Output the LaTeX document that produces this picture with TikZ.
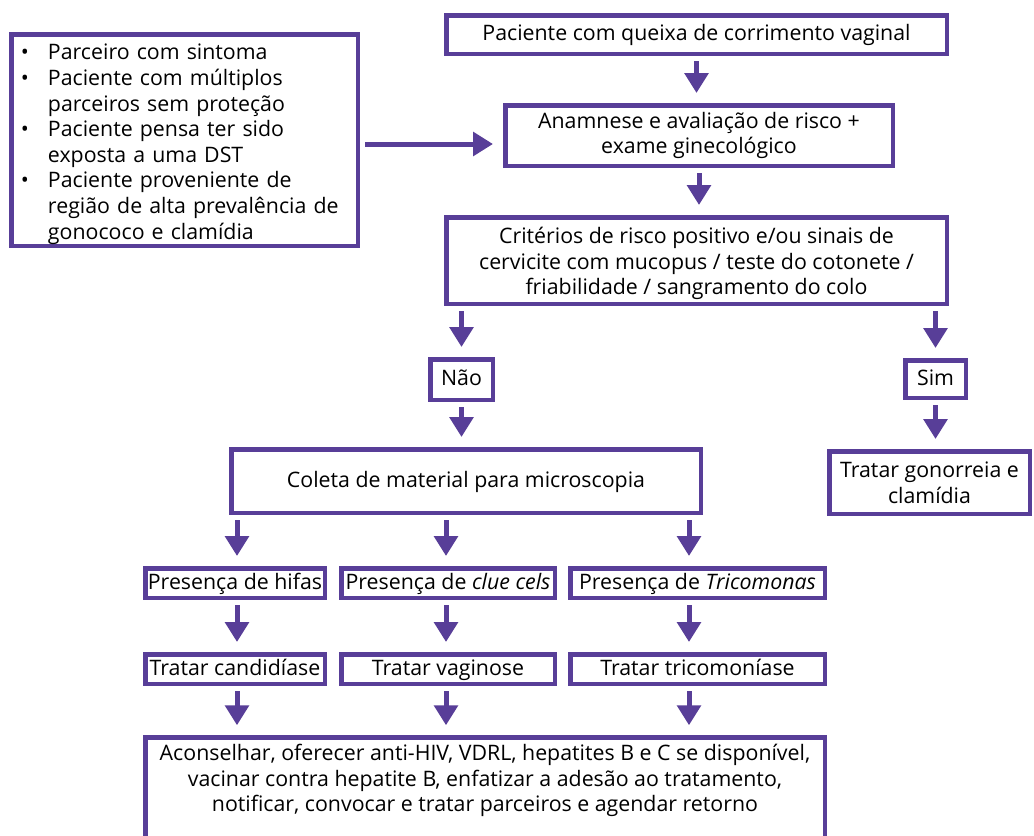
\documentclass[tikz,border=0pt]{standalone}
\usepackage{fontspec}
\setmainfont{Open Sans}
\usetikzlibrary{arrows.meta}
\definecolor{pur}{RGB}{88,62,152}
\tikzset{
  box/.style={draw=pur, line width=3.375pt, inner sep=0pt, align=center,
    font=\fontsize{16pt}{19.2pt}\selectfont, text=black},
  sl/.style={text height=12.4pt, text depth=3.2pt},
  arr/.style={draw=pur, line width=3.75pt,
    -{Triangle[width=17.5pt,length=15pt]},
    shorten <=3.75pt, shorten >=7.5pt},
}
\newcommand\bx[7][]{\node[box, #1, minimum width={(#5-#3-4.5)*0.75pt},
  minimum height={(#6-#4-4.5)*0.75pt}] (#2) at ({(#3+#5)/2},{(#4+#6)/2}) {#7};}
\newcommand\bul{\makebox[20.25pt][l]{•}}
\newcommand\ind{\hspace*{20.25pt}}
\begin{document}
\begin{tikzpicture}[x=0.75pt,y=-0.75pt]
\useasboundingbox (0,0) rectangle (1034,835);
\clip (0,0) rectangle (1034,835);
\fill[white] (0,0) rectangle (1034,835);
% boxes
\bx[sl]{b1}{444}{13}{949}{56}{Paciente com queixa de corrimento vaginal}
\bx{b2}{503}{103}{895}{168}{Anamnese e avaliação de risco +\\exame ginecológico}
\bx{b3}{444}{215}{949}{306}{\rule{0pt}{16.7pt}Critérios de risco positivo e/ou sinais de\\cervicite com mucopus / teste do cotonete /\\friabilidade / sangramento do colo}
\node[box, align=left, minimum width={(351-4.5)*0.75pt}, minimum height={(216-4.5)*0.75pt},
  text width={327*0.75pt}] (risk) at (184.5,140) {%
\mbox{\rule{0pt}{18.2pt}\bul Parceiro com sintoma}\\
\mbox{\bul Paciente com múltiplos}\\
\mbox{\ind parceiros sem proteção}\\
\mbox{\bul Paciente pensa ter sido}\\
\mbox{\ind exposta a uma DST}\\
\mbox{\bul Paciente proveniente de}\\
\mbox{\ind região de alta prevalência de}\\
\mbox{\ind gonococo e clamídia}};
\bx[sl]{nao}{428}{357}{495}{402}{Não}
\bx[sl]{sim}{903}{358}{968}{400}{Sim}
\bx{tg}{827}{449}{1032}{516}{Tratar gonorreia e\\clamídia}
\bx[sl]{col}{229}{447}{703}{515}{Coleta de material para microscopia}
\bx[sl]{a1}{143}{566}{327}{600}{Presença de hifas}
\bx[sl]{c1}{339}{566}{557}{600}{Presença de \textit{clue cels}}
\bx[sl]{t1}{568}{566}{827}{600}{Presença de \textit{Tricomonas}}
\bx[sl]{a2}{143}{652}{327}{686}{Tratar candidíase}
\bx[sl]{c2}{339}{652}{557}{686}{Tratar vaginose}
\bx[sl]{t2}{568}{652}{827}{686}{Tratar tricomoníase}
\node[box, minimum width={(827-143-4.5)*0.75pt}, minimum height={(860-733-4.5)*0.75pt},
  anchor=north] (fin) at (485,735.25) {};
\node[font=\fontsize{16pt}{19.2pt}\selectfont, align=center, anchor=north, inner sep=0pt]
  (fintxt) at (485,744) {Aconselhar, oferecer anti-HIV, VDRL, hepatites B e C se disponível,\\vacinar contra hepatite B, enfatizar a adesão ao tratamento,\\notificar, convocar e tratar parceiros e agendar retorno};
% column coordinates
\coordinate (cA) at (237,0);
\coordinate (cB) at (446,0);
\coordinate (cC) at (689,0);
\coordinate (h) at (0,144);
% arrows
\draw[arr] (b1.south) -- (b1.south |- b2.north);
\draw[arr] (b2.south) -- (b2.south |- b3.north);
\draw[arr] (risk.east |- h) -- (b2.west |- h);
\draw[arr] (b3.south -| nao.north) -- (nao.north);
\draw[arr] (b3.south -| sim.north) -- (sim.north);
\draw[arr] (nao.south) -- (nao.south |- col.north);
\draw[arr] (sim.south) -- (sim.south |- tg.north);
\draw[arr] (col.south -| cA) -- (a1.north -| cA);
\draw[arr] (col.south -| cB) -- (c1.north -| cB);
\draw[arr] (col.south -| cC) -- (t1.north -| cC);
\draw[arr] (a1.south -| cA) -- (a2.north -| cA);
\draw[arr] (c1.south -| cB) -- (c2.north -| cB);
\draw[arr] (t1.south -| cC) -- (t2.north -| cC);
\draw[arr] (a2.south -| cA) -- (fin.north -| cA);
\draw[arr] (c2.south -| cB) -- (fin.north -| cB);
\draw[arr] (t2.south -| cC) -- (fin.north -| cC);
\end{tikzpicture}
\end{document}
